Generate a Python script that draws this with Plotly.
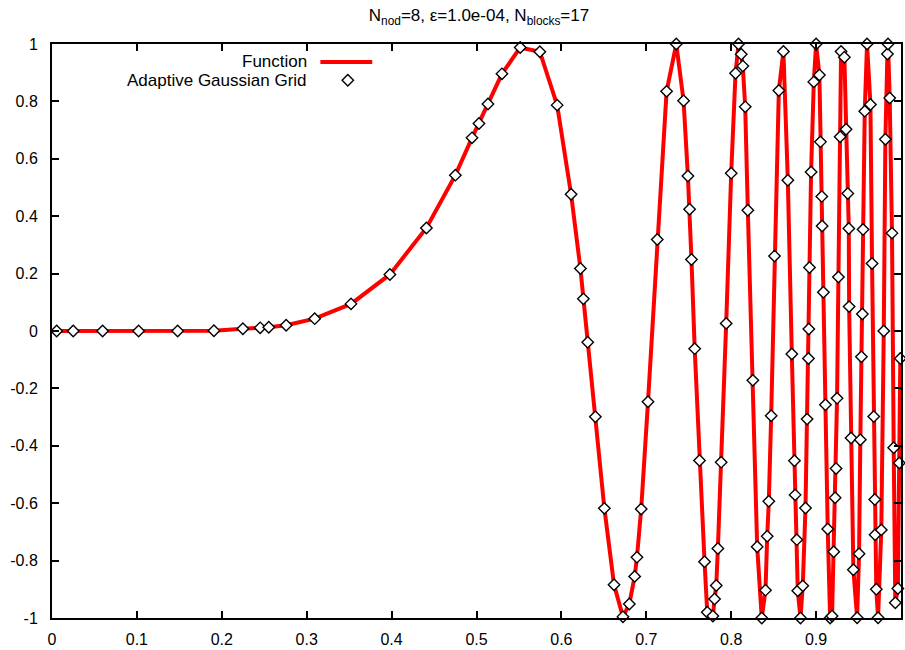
import plotly.graph_objects as go

# ---------------- data ----------------
grid_x = [
    0.0055, 0.025, 0.0596, 0.102, 0.148, 0.1907, 0.2248, 0.2452, 0.2553, 0.2758, 0.3094,
    0.3522, 0.398, 0.441, 0.4751, 0.4947, 0.5029, 0.5135, 0.530, 0.5515, 0.5746, 0.595,
    0.6114, 0.6224, 0.6259, 0.631, 0.640, 0.6506, 0.662, 0.6725, 0.680, 0.6863,
    0.689, 0.694, 0.702, 0.7129, 0.7239, 0.7353, 0.7439, 0.749,
    0.751, 0.7532, 0.757, 0.7627, 0.7686, 0.7718, 0.7784, 0.7804,
    0.7824, 0.7843, 0.7882, 0.7941, 0.800, 0.8051, 0.8086, 0.8118,
    0.8137, 0.8165, 0.8196, 0.8255, 0.8306, 0.836, 0.8404, 0.8424,
    0.8443, 0.8471, 0.851, 0.8561, 0.8615, 0.8667, 0.8714, 0.8745,
    0.8753, 0.8773, 0.8784, 0.8816, 0.8843, 0.8875, 0.8894, 0.891,
    0.8914, 0.8922, 0.8941, 0.8973, 0.900, 0.9039, 0.9051, 0.9067,
    0.9071, 0.9086, 0.911, 0.9137, 0.9165, 0.9188, 0.9208, 0.9224,
    0.9235, 0.9247, 0.9263, 0.9283, 0.9294, 0.9333, 0.9353, 0.9373,
    0.9385, 0.9389, 0.9412, 0.9439, 0.9483, 0.9506, 0.9521, 0.9534,
    0.9545, 0.9553, 0.9573, 0.960, 0.964, 0.9659, 0.9679, 0.9691,
    0.9695, 0.9709, 0.973, 0.9768, 0.9797, 0.9816, 0.984,
    0.9847, 0.9867, 0.9894, 0.9914, 0.9933, 0.9963, 0.9980, 0.9992,
]
grid_y = [
    0.000, 0.000, 0.000, 0.000, 0.000, 0.001, 0.008, 0.011, 0.013, 0.020, 0.043,
    0.0945, 0.197, 0.359, 0.543, 0.673, 0.723, 0.791, 0.896, 0.988, 0.973, 0.787,
    0.4765, 0.2175, 0.112, -0.039, -0.299, -0.618, -0.884, -0.996, -0.951, -0.855,
    -0.788, -0.620, -0.2465, 0.319, 0.835, 1.000, 0.802, 0.540,
    0.424, 0.249, -0.0615, -0.451, -0.804, -0.980, -0.993, -0.934,
    -0.887, -0.758, -0.457, 0.0265, 0.550, 0.898, 1.000, 0.964,
    0.923, 0.781, 0.421, -0.172, -0.752, -1.000, -0.903, -0.715,
    -0.593, -0.295, 0.261, 0.838, 0.974, 0.525, -0.080, -0.452,
    -0.571, -0.727, -0.905, -1.000, -0.888, -0.617, -0.307, -0.096,
    0.007, 0.221, 0.554, 0.868, 1.000, 0.892, 0.659, 0.469,
    0.366, 0.135, -0.257, -0.690, -1.000, -0.993, -0.769, -0.581,
    -0.479, -0.234, 0.188, 0.677, 0.974, 0.954, 0.703, 0.479,
    0.357, 0.085, -0.373, -0.832, -0.999, -0.776, -0.379, -0.090,
    0.059, 0.354, 0.766, 1.000, 0.789, 0.235, -0.298, -0.587,
    -0.710, -0.900, -0.999, -0.693, 0.000, 0.668, 0.965,
    1.000, 0.812, 0.341, -0.407, -0.947, -0.897, -0.460, -0.096,
]
# The "Function" curve is drawn through the same sampled points
func_x = grid_x
func_y = grid_y

x_tick_vals = [0, 0.1, 0.2, 0.3, 0.4, 0.5, 0.6, 0.7, 0.8, 0.9, 1.0]
x_tick_text = ["0", "0.1", "0.2", "0.3", "0.4", "0.5", "0.6", "0.7", "0.8", "0.9", "1"]
y_tick_vals = [-1, -0.8, -0.6, -0.4, -0.2, 0, 0.2, 0.4, 0.6, 0.8, 1]
y_tick_text = ["-1", "-0.8", "-0.6", "-0.4", "-0.2", "0", "0.2", "0.4", "0.6", "0.8", "1"]

title_text = "N<sub>nod</sub>=8, \u03b5=1.0e-04, N<sub>blocks</sub>=17"
legend_names = ["Function", "Adaptive Gaussian Grid"]

# ---------------- figure ----------------
FONT = "Liberation Sans, Arial, Helvetica, sans-serif"
W, H = 905, 650
ML, MR, MT, MB = 52, 2, 44, 28
PW, PH = W - ML - MR, H - MT - MB

def px_x(p):
    return (p - ML) / PW

def px_y(p):
    return (H - MB - p) / PH

fig = go.Figure()
fig.add_trace(go.Scatter(
    x=func_x, y=func_y, mode="lines", name=legend_names[0],
    line=dict(color="#ff0000", width=4), cliponaxis=False, showlegend=False,
))
fig.add_trace(go.Scatter(
    x=grid_x, y=grid_y, mode="markers", name=legend_names[1],
    marker=dict(symbol="diamond", size=8.8, color="white",
                line=dict(color="black", width=1.4)),
    cliponaxis=False, showlegend=False,
))

axis_common = dict(
    showgrid=False, zeroline=False, showline=True, linecolor="black", linewidth=2,
    mirror="ticks", ticks="inside", ticklen=7, tickwidth=1.5, tickcolor="black",
    tickfont=dict(family=FONT, size=16, color="black"),
)
fig.update_xaxes(range=[0, 1], tickmode="array", tickvals=x_tick_vals,
                 ticktext=x_tick_text, ticklabelstandoff=6, **axis_common)
fig.update_yaxes(range=[-1, 1], tickmode="array", tickvals=y_tick_vals,
                 ticktext=y_tick_text, ticklabelstandoff=9, **axis_common)

# gnuplot-style key: right-justified text, sample to the right
fig.add_annotation(text=legend_names[0], xref="paper", yref="paper",
                   x=px_x(309), y=px_y(61.5), xanchor="right", yanchor="middle",
                   showarrow=False, borderpad=0,
                   font=dict(family=FONT, size=17, color="black"))
fig.add_annotation(text=legend_names[1], xref="paper", yref="paper",
                   x=px_x(309), y=px_y(81), xanchor="right", yanchor="middle",
                   showarrow=False, borderpad=0,
                   font=dict(family=FONT, size=17, color="black"))
fig.add_shape(type="line", xref="paper", yref="paper",
              x0=px_x(321), x1=px_x(373), y0=px_y(62), y1=px_y(62),
              line=dict(color="#ff0000", width=4))
d = 5.7
fig.add_shape(type="path", xref="paper", yref="paper",
              xsizemode="pixel", ysizemode="pixel",
              xanchor=px_x(348.5), yanchor=px_y(80.5),
              path=f"M {d},0 L 0,{d} L {-d},0 L 0,{-d} Z",
              fillcolor="white", line=dict(color="black", width=1.4))

fig.update_layout(
    width=W, height=H,
    margin=dict(l=ML, r=MR, t=MT, b=MB, pad=0),
    paper_bgcolor="white", plot_bgcolor="white",
    title=dict(text=title_text, x=px_x(480), xref="paper", xanchor="center",
               y=1 - 15 / H, yref="container", yanchor="middle",
               font=dict(family=FONT, size=17, color="black")),
    font=dict(family=FONT, size=16, color="black"),
)

fig.write_html("out.html")
